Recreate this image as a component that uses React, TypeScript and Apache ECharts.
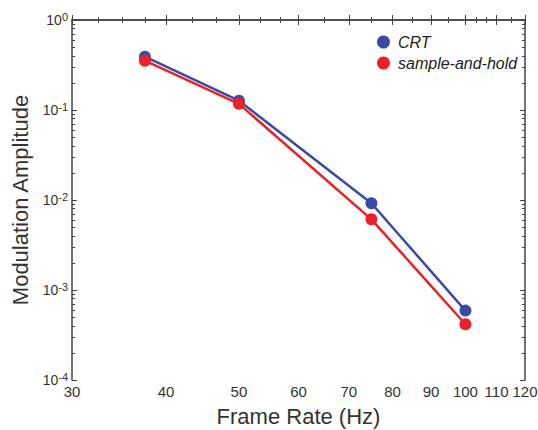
import React, { useEffect, useRef } from "react";
import * as echarts from "echarts";

const frameRates = [37.5, 50, 75, 100];
const crtValues = [0.391, 0.127, 0.0092, 0.00059];
const sampleHoldValues = [0.353, 0.117, 0.0061, 0.000416];
const seriesNames = ["CRT", "sample-and-hold"];
const xMajorTicks = [30, 40, 50, 60, 70, 80, 90, 100, 110, 120];
const xMinorTicks = [32.5, 35, 37.5, 43.3, 46.7, 53.3, 56.7, 65, 75, 85, 95, 103.3, 106.7, 115];
const yExponents = [-4, -3, -2, -1, 0];
const yMinorMultipliers = [2, 3, 4, 5, 6, 7, 8, 9];

const FONT = "'Liberation Sans', Arial, Helvetica, sans-serif";
const AXIS_COLOR = "#444";
const TEXT_COLOR = "#333";
const BLUE = "#3b4aa6";
const RED = "#ec2027";

export default function App() {
  const ref = useRef<HTMLDivElement>(null);
  useEffect(() => {
    if (!ref.current) return;
    const chart = echarts.init(ref.current, null, { renderer: "svg" });
    const lnMajor = xMajorTicks.map((v) => Math.log(v));
    const lnMinor = xMinorTicks.map((v) => Math.log(v));
    const yMinor: number[] = [];
    yExponents.slice(0, -1).forEach((e) => {
      yMinorMultipliers.forEach((m) => yMinor.push(Math.log10(m * Math.pow(10, e))));
    });
    const xMin = Math.log(30);
    const xMax = Math.log(120);
    const axisLine = { show: true, lineStyle: { color: AXIS_COLOR, width: 1.5 } };
    const noLine = { show: false };
    const baseX = { type: "value", min: xMin, max: xMax, splitLine: { show: false } };
    const baseY = { type: "value", min: -4, max: 0, splitLine: { show: false } };
    const tick = (vals: number[], len: number) => ({
      show: true,
      inside: true,
      length: len,
      customValues: vals,
      lineStyle: { color: AXIS_COLOR, width: 1 },
    });
    const option: any = {
      animation: false,
      backgroundColor: "#fff",
      grid: { left: 72, right: 13, top: 20, bottom: 50, containLabel: false, outerBoundsMode: "none" },
      legend: {
        data: seriesNames,
        orient: "vertical",
        left: 372,
        top: 29,
        icon: "circle",
        itemWidth: 13,
        itemHeight: 13,
        itemGap: 5,
        textStyle: {
          fontStyle: "italic",
          fontSize: 16,
          lineHeight: 16,
          color: "#222",
          fontFamily: FONT,
          padding: [0, 0, 0, 3],
        },
      },
      xAxis: [
        {
          ...baseX,
          position: "bottom",
          axisLine,
          axisTick: tick(lnMajor, 5),
          axisLabel: {
            show: true,
            customValues: lnMajor,
            formatter: (v: number) => String(Math.round(Math.exp(v))),
            fontSize: 15,
            color: TEXT_COLOR,
            fontFamily: FONT,
            margin: 4,
          },
          name: "Frame Rate (Hz)",
          nameLocation: "middle",
          nameGap: 25,
          nameTextStyle: { fontSize: 22, color: TEXT_COLOR, fontFamily: FONT },
        },
        { ...baseX, position: "bottom", axisLine: noLine, axisTick: tick(lnMinor, 3), axisLabel: { show: false } },
        { ...baseX, position: "top", axisLine, axisTick: tick(lnMajor, 5), axisLabel: { show: false } },
        { ...baseX, position: "top", axisLine: noLine, axisTick: tick(lnMinor, 3), axisLabel: { show: false } },
      ],
      yAxis: [
        {
          ...baseY,
          position: "left",
          interval: 1,
          axisLine,
          axisTick: tick(yExponents, 5),
          axisLabel: {
            show: true,
            customValues: yExponents,
            formatter: (v: number) => `10{sup|${Math.round(v)}}`,
            fontSize: 14,
            color: TEXT_COLOR,
            fontFamily: FONT,
            margin: 4,
            rich: {
              sup: { fontSize: 11, color: TEXT_COLOR, fontFamily: FONT, verticalAlign: "bottom", padding: [0, 0, 6, 0] },
            },
          },
          name: "Modulation Amplitude",
          nameLocation: "middle",
          nameGap: 37,
          nameTextStyle: { fontSize: 22, color: TEXT_COLOR, fontFamily: FONT },
        },
        { ...baseY, position: "left", axisLine: noLine, axisTick: tick(yMinor, 3), axisLabel: { show: false } },
        { ...baseY, position: "right", axisLine, axisTick: tick(yExponents, 5), axisLabel: { show: false } },
        { ...baseY, position: "right", axisLine: noLine, axisTick: tick(yMinor, 3), axisLabel: { show: false } },
      ],
      series: [
        {
          name: seriesNames[0],
          type: "line",
          xAxisIndex: 0,
          yAxisIndex: 0,
          data: frameRates.map((f, i) => [Math.log(f), Math.log10(crtValues[i])]),
          symbol: "circle",
          symbolSize: 12,
          itemStyle: { color: BLUE },
          lineStyle: { color: BLUE, width: 2.5 },
          z: 2,
        },
        {
          name: seriesNames[1],
          type: "line",
          xAxisIndex: 0,
          yAxisIndex: 0,
          data: frameRates.map((f, i) => [Math.log(f), Math.log10(sampleHoldValues[i])]),
          symbol: "circle",
          symbolSize: 12,
          itemStyle: { color: RED },
          lineStyle: { color: RED, width: 2.5 },
          z: 3,
        },
      ],
    };
    chart.setOption(option);
    return () => chart.dispose();
  }, []);
  return (
    <div
      ref={ref}
      style={{ position: "fixed", left: 0, top: 0, width: 538, height: 430, background: "#fff" }}
    />
  );
}
